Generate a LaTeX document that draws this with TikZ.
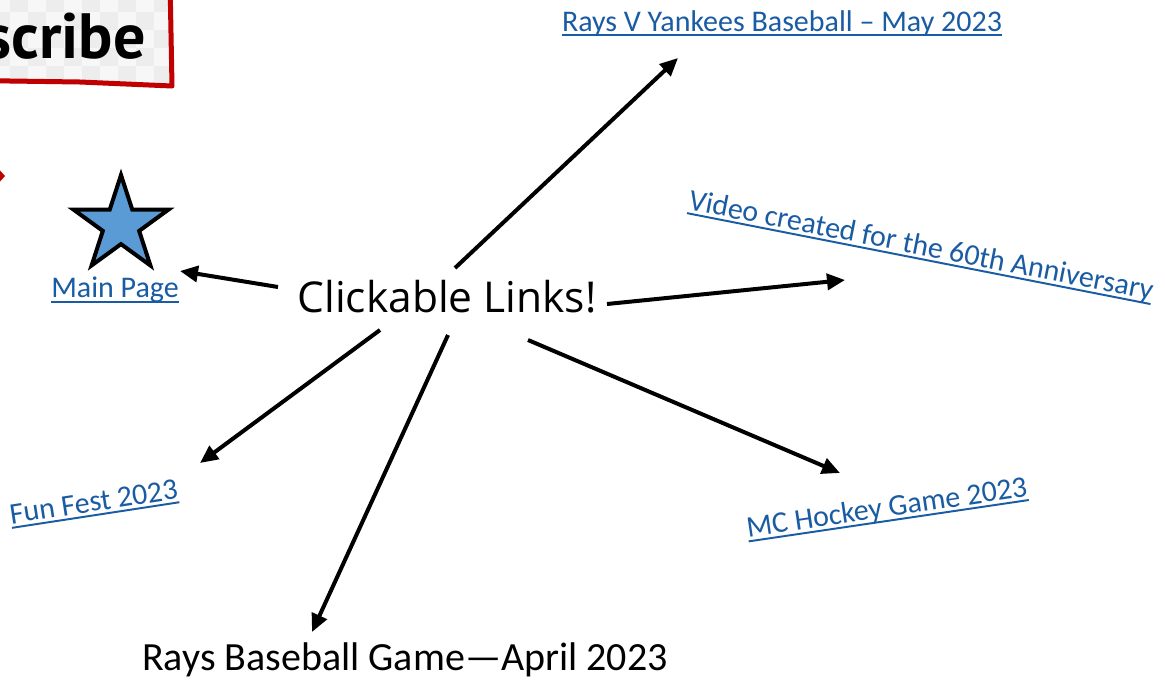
\documentclass[tikz,border=0pt]{standalone}
\usepackage{fontspec}
\usetikzlibrary{arrows.meta,shapes.geometric}
\newfontfamily\linkfont{Carlito}
\newfontfamily\handfont{Open Sans}
\newfontfamily\markerfont{PT Sans}
\definecolor{linkblue}{HTML}{1A5CA3}
\definecolor{starblue}{HTML}{5B9BD5}
\definecolor{boxred}{HTML}{C00000}
\newcommand\lnk[1]{\setbox0\hbox{#1}\rlap{\rule[-0.16em]{\wd0}{0.065em}}\box0}
\tikzset{
  linklabel/.style={font=\linkfont\fontsize{30}{34}\selectfont, text=linkblue, inner sep=0pt},
  conn/.style={line width=4pt, -{Triangle[length=18pt,width=16pt]}},
}
\begin{document}
\begin{tikzpicture}[x=1pt,y=-1pt]
\useasboundingbox (0,0) rectangle (1165,681);
\fill[white] (0,0) rectangle (1165,681);
% subscribe box fragment
\fill[gray!14] (-200,-20) rectangle (172,84);
\foreach \i in {0,...,9}{\foreach \j in {0,...,4}{
  \pgfmathtruncatemacro\k{mod(\i+\j,2)}
  \ifnum\k=0 \fill[gray!6] (\i*18-8,\j*18-6) rectangle ++(18,18);\fi}}
\draw[boxred, line width=5pt, line join=round] (-200,78) -- (80,82) -- (172,86) -- (170,-20);
\node[font=\markerfont\bfseries\fontsize{64}{70}\selectfont, anchor=base east, inner sep=0pt] (sub) at (146,58) {Subscribe};
\fill[boxred] (-4,166) -- (5,176) -- (-4,186) -- cycle;
% star
\node[star, star points=5, star point ratio=2.618, minimum size=100pt, inner sep=0pt, draw=black, fill=starblue, line width=4pt] (star) at (121,225) {};
% centre
\node[font=\handfont\fontsize{42.5}{46}\selectfont, inner sep=0pt] (hub) at (447,297) {Clickable Links!};
% labels
\node[linklabel] (main) at (115,290) {\lnk{Main Page}};
\node[linklabel] (yank) at (782,23) {\lnk{Rays V Yankees Baseball – May 2023}};
\node[linklabel, rotate=-11.1] (video) at (921,247) {\lnk{Video created for the 60th Anniversary}};
\node[linklabel, rotate=8.7] (fun) at (94,504) {\lnk{Fun Fest 2023}};
\node[linklabel, rotate=8.4] (hockey) at (887,509) {\lnk{MC Hockey Game 2023}};
\node[font=\linkfont\fontsize{40}{44}\selectfont, inner sep=0pt] (rays) at (405,660) {Rays Baseball Game—April 2023};
% connector ends
\coordinate (sMain) at (278,287); \coordinate (eMain) at (180,271);
\coordinate (sYank) at (455,268); \coordinate (eYank) at (678,58);
\coordinate (sVid) at (607,304);  \coordinate (eVid) at (845,280);
\coordinate (sFun) at (380,330);  \coordinate (eFun) at (200,463);
\coordinate (sRays) at (448,335); \coordinate (eRays) at (312,632);
\coordinate (sHock) at (528,340); \coordinate (eHock) at (840,473);
\draw[conn] (sMain) -- (eMain);
\draw[conn] (sYank) -- (eYank);
\draw[conn] (sVid) -- (eVid);
\draw[conn] (sFun) -- (eFun);
\draw[conn] (sRays) -- (eRays);
\draw[conn] (sHock) -- (eHock);
\end{tikzpicture}
\end{document}
